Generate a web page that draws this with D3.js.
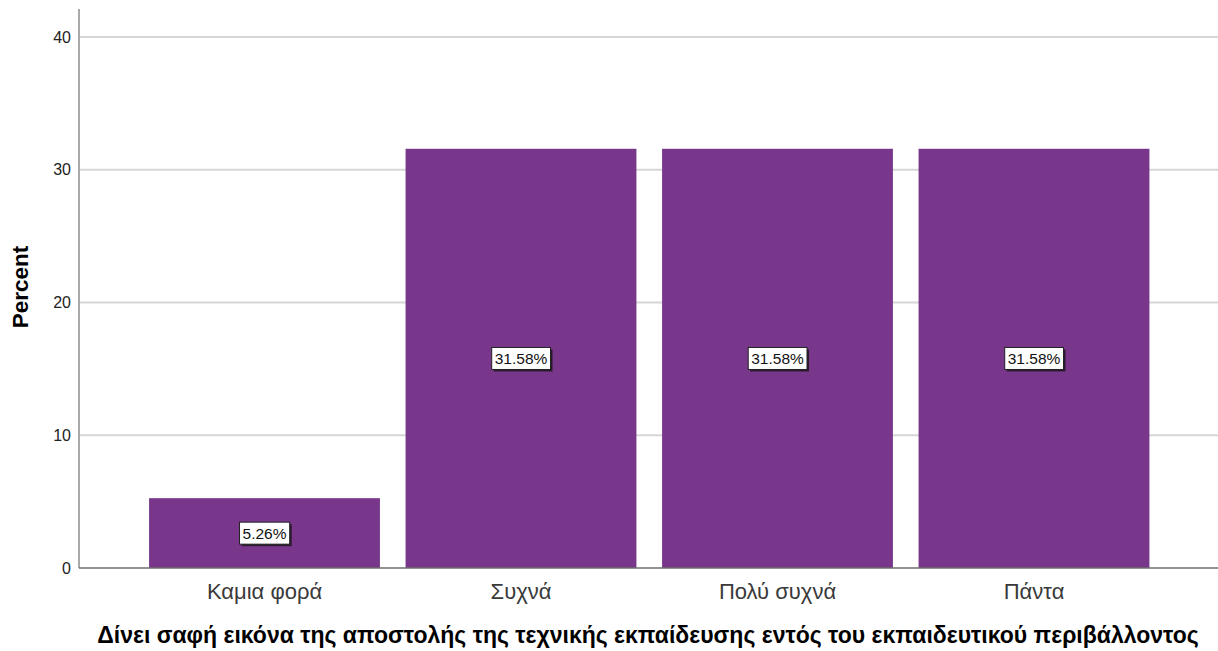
<!DOCTYPE html>
<html>
<head>
<meta charset="utf-8">
<script src="https://cdn.jsdelivr.net/npm/d3@7"></script>
<style>
  html, body { margin: 0; padding: 0; background: #fff; }
  svg { display: block; }
</style>
</head>
<body>
<svg id="chart" width="1218" height="651"></svg>
<script>
// Response categories and their percentages
const categories = ["Καμια φορά", "Συχνά", "Πολύ συχνά", "Πάντα"];
const percents = [5.26, 31.58, 31.58, 31.58];
const yTicks = [0, 10, 20, 30, 40];
const xTitle = "Δίνει σαφή εικόνα της αποστολής της τεχνικής εκπαίδευσης εντός του εκπαιδευτικού περιβάλλοντος";
const yTitle = "Percent";

const svg = d3.select("#chart");
const W = 1218, H = 651;
const plot = { left: 79, right: W, top: 9, bottom: 568 };
const sans = "Arial, 'Liberation Sans', sans-serif";

const y = d3.scaleLinear()
  .domain([0, 40])
  .range([plot.bottom, 37]);

const x = d3.scaleBand()
  .domain(categories)
  .range([136.25, 1162.25])
  .paddingInner(0.1)
  .paddingOuter(0.05);

// horizontal gridlines
svg.append("g")
  .selectAll("line")
  .data(yTicks.filter(t => t > 0))
  .join("line")
  .attr("x1", plot.left + 1)
  .attr("x2", plot.right)
  .attr("y1", d => y(d))
  .attr("y2", d => y(d))
  .attr("stroke", "#d6d6d6")
  .attr("stroke-width", 2);

// bars
svg.append("g")
  .selectAll("rect")
  .data(categories)
  .join("rect")
  .attr("x", d => x(d))
  .attr("width", x.bandwidth())
  .attr("y", (d, i) => y(percents[i]))
  .attr("height", (d, i) => y(0) - y(percents[i]))
  .attr("fill", "#79378b");

// y axis (line + labels, no tick marks)
const yAxis = svg.append("g")
  .attr("transform", `translate(${plot.left},0)`)
  .call(d3.axisLeft(y).tickValues(yTicks).tickSize(0).tickPadding(8).tickFormat(d3.format("d")));
yAxis.select(".domain").remove();
yAxis.selectAll("text")
  .attr("font-family", sans)
  .attr("font-size", 16)
  .attr("fill", "#222");
svg.append("line")
  .attr("x1", plot.left).attr("x2", plot.left)
  .attr("y1", plot.top).attr("y2", plot.bottom)
  .attr("stroke", "#8c8c8c").attr("stroke-width", 1.5);

// x axis
const xAxis = svg.append("g")
  .attr("transform", `translate(0,${plot.bottom})`)
  .call(d3.axisBottom(x).tickSize(0).tickPadding(0));
xAxis.select(".domain").remove();
xAxis.selectAll("text")
  .attr("y", 31)
  .attr("dy", null)
  .attr("font-family", sans)
  .attr("font-size", 22)
  .attr("fill", "#3a3a3a");
svg.append("line")
  .attr("x1", plot.left).attr("x2", plot.right)
  .attr("y1", plot.bottom).attr("y2", plot.bottom)
  .attr("stroke", "#6e6e6e").attr("stroke-width", 1.5);

// value labels in boxes at bar middles
const labels = svg.append("g")
  .selectAll("g")
  .data(categories)
  .join("g")
  .attr("transform", (d, i) => `translate(${x(d) + x.bandwidth() / 2},${y(percents[i] / 2)})`);

labels.each(function(d, i) {
  const g = d3.select(this);
  const txt = percents[i].toFixed(2) + "%";
  const t = g.append("text")
    .attr("text-anchor", "middle")
    .attr("dy", "0.36em")
    .attr("font-family", sans)
    .attr("font-size", 15.5)
    .attr("fill", "#111")
    .text(txt);
  const bb = t.node().getBBox();
  const padX = 3, padY = 2.5;
  g.insert("rect", "text")
    .attr("x", bb.x - padX + 2)
    .attr("y", bb.y - padY + 2)
    .attr("width", bb.width + 2 * padX)
    .attr("height", bb.height + 2 * padY)
    .attr("fill", "#2a1a30");
  g.insert("rect", "text")
    .attr("x", bb.x - padX)
    .attr("y", bb.y - padY)
    .attr("width", bb.width + 2 * padX)
    .attr("height", bb.height + 2 * padY)
    .attr("fill", "#fff")
    .attr("stroke", "#222")
    .attr("stroke-width", 1);
});

// axis titles
svg.append("text")
  .attr("x", 648)
  .attr("y", 643)
  .attr("text-anchor", "middle")
  .attr("font-family", sans)
  .attr("font-weight", "bold")
  .attr("font-size", 23)
  .attr("fill", "#000")
  .text(xTitle);

svg.append("text")
  .attr("transform", `translate(28,287) rotate(-90)`)
  .attr("text-anchor", "middle")
  .attr("font-family", sans)
  .attr("font-weight", "bold")
  .attr("font-size", 22.5)
  .attr("fill", "#000")
  .text(yTitle);
</script>
</body>
</html>
